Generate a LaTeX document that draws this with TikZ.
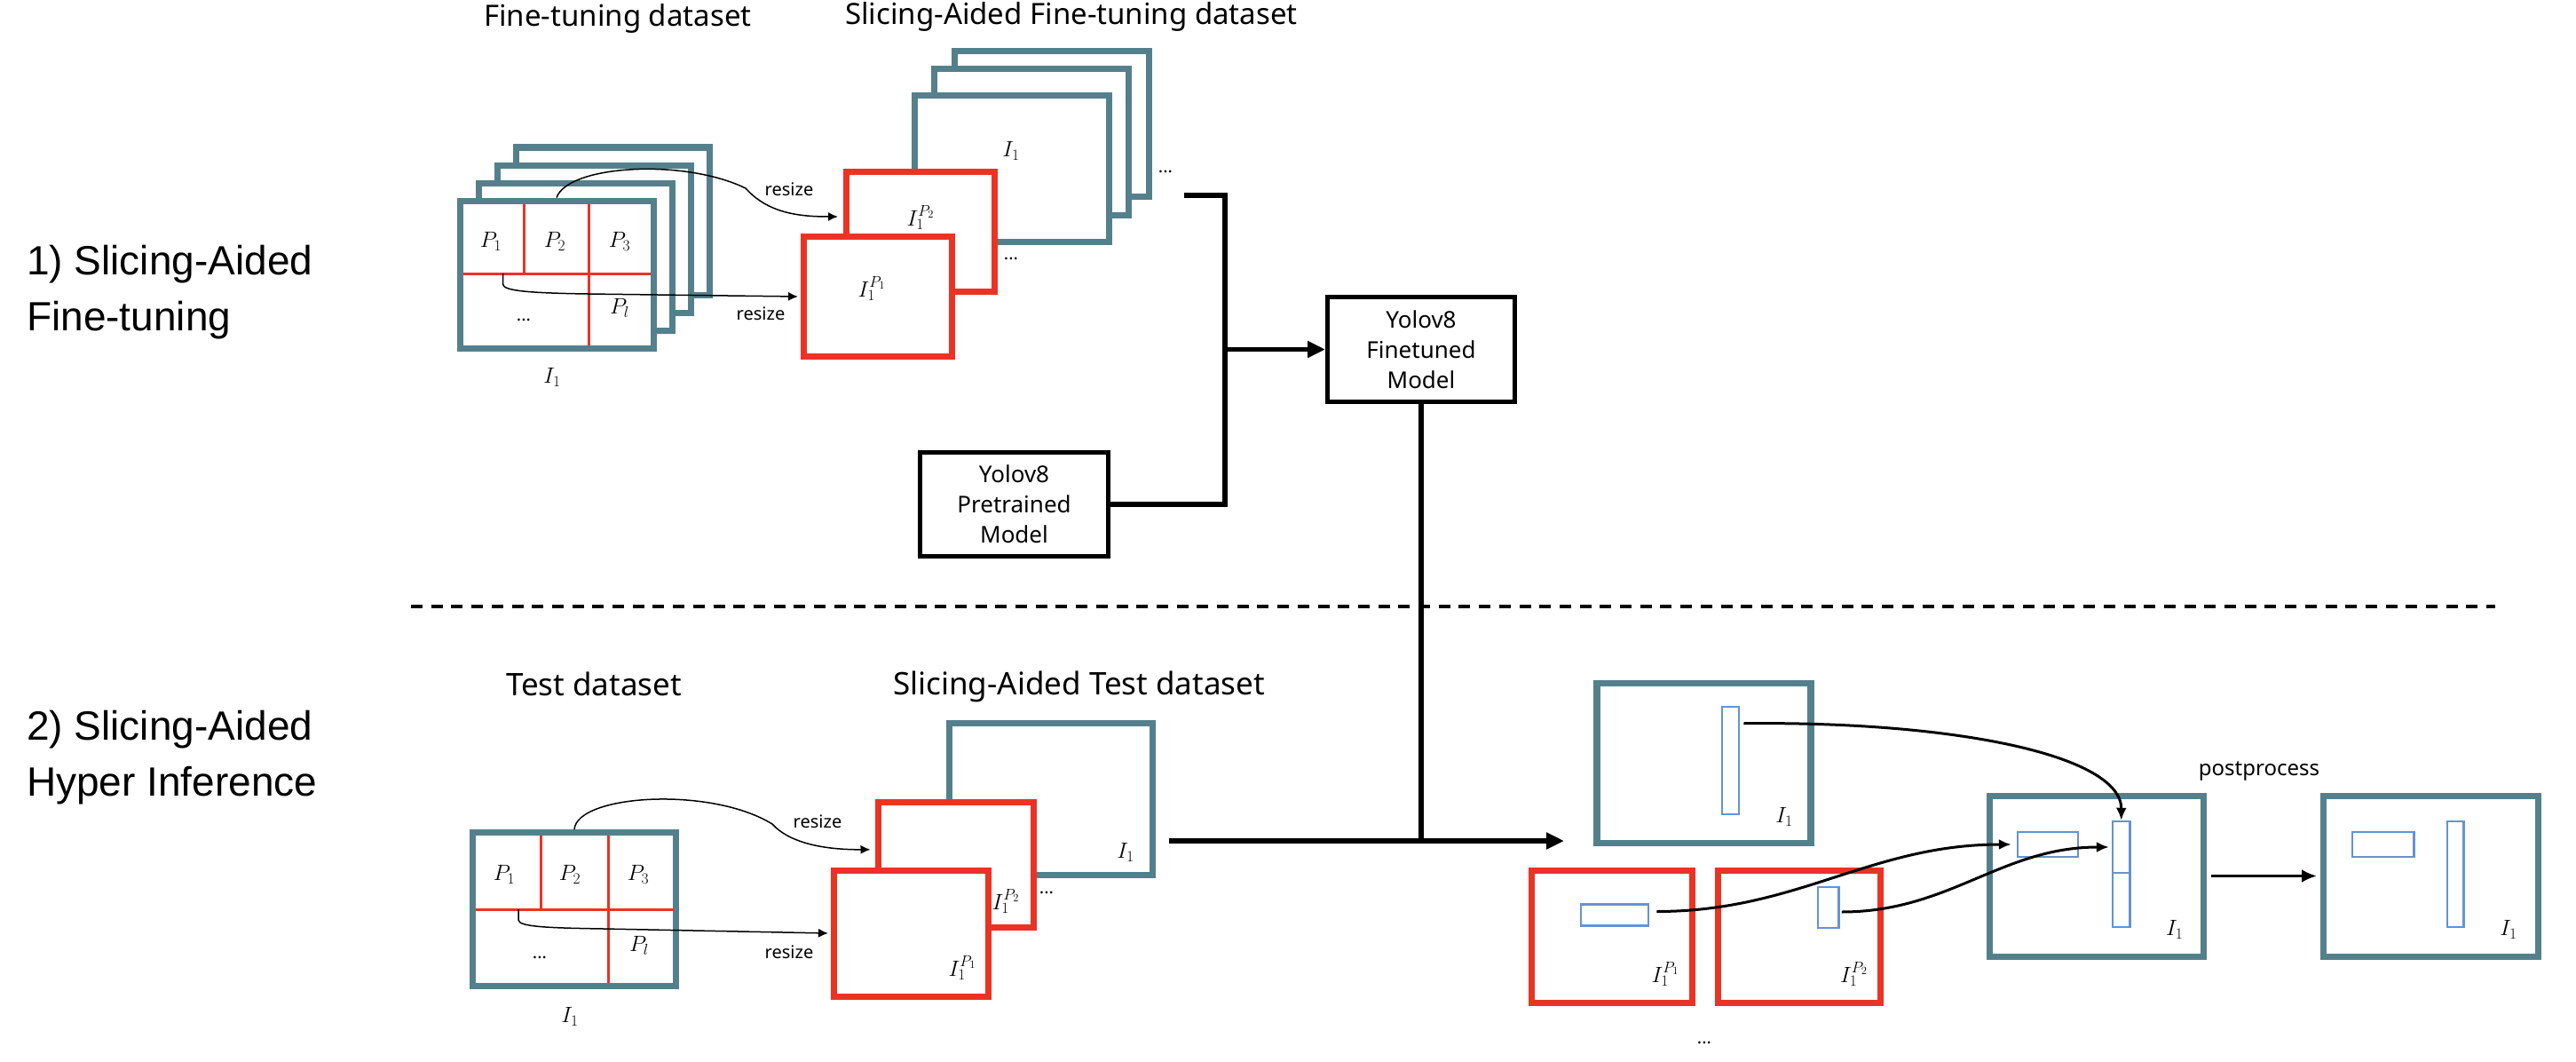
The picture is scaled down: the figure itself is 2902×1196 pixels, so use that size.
\RequirePackage{fix-cm}
\documentclass[tikz,border=0pt]{standalone}
\usepackage{fontspec}
\setmainfont{Noto Sans}
\newfontfamily\arialfont{Liberation Sans}
\usetikzlibrary{arrows.meta,calc}
\definecolor{frameteal}{RGB}{84,128,140}
\definecolor{slicered}{RGB}{233,52,36}
\definecolor{boxblue}{RGB}{100,146,214}
\tikzset{
  fsize/.style 2 args={minimum width=#1,minimum height=#2},
  imgframe/.style={draw=frameteal,line width=7pt,fill=white,inner sep=0pt},
  sliceframe/.style={draw=slicered,line width=7pt,fill=white,inner sep=0pt},
  gridline/.style={slicered,line width=3pt},
  detbox/.style={draw=boxblue,line width=2.5pt,inner sep=0pt},
  modelbox/.style={draw,line width=5pt,align=center,inner sep=0pt,fsize={211pt}{118pt},font=\fontsize{26}{34}\selectfont},
  datatitle/.style={anchor=base west,inner sep=0pt,font=\fontsize{33}{40}\selectfont},
  stagelbl/.style={anchor=base west,align=left,inner sep=0pt,font=\arialfont\fontsize{46}{63}\selectfont},
  mathlbl/.style={inner sep=0pt,font=\fontsize{25}{29}\selectfont},
  smalllbl/.style={inner sep=0pt,font=\fontsize{20}{24}\selectfont},
  resizearrow/.style={line width=1.5pt,-{Latex[length=11pt,width=10pt]}},
  matcharrow/.style={line width=3pt,-{Latex[length=14pt,width=12pt]}},
  flowline/.style={line width=5.5pt},
  flowarrow/.style={line width=5.5pt,-{Triangle[length=20pt,width=18pt]}}
}

\begin{document}
\begin{tikzpicture}[x=1pt,y=-1pt]
  \useasboundingbox (0,0) rectangle (2902,1196);

  \node[stagelbl] (stage1) at (30,372.6) {1) Slicing-Aided\\Fine-tuning};
  \node[stagelbl] (stage2) at (30,896.6) {2) Slicing-Aided\\Hyper Inference};

  \node[datatitle] (fttitle) at (545,30) {Fine-tuning dataset};
  \node[datatitle] (sfttitle) at (952,28) {Slicing-Aided Fine-tuning dataset};
  \node[datatitle,font=\fontsize{35}{42}\selectfont] (testtitle) at (570,783) {Test dataset};
  \node[datatitle,font=\fontsize{35}{42}\selectfont] (stesttitle) at (1006,782) {Slicing-Aided Test dataset};

  \foreach \k in {3,2,1}
    \node[imgframe,fsize={218pt}{166pt}] (ftb\k) at ({627+21*\k},{309-20*\k}) {};
  \node[imgframe,fsize={218pt}{166pt}] (ft) at (627,309) {};
  \draw[gridline] (521.5,308) -- (732.5,308);
  \draw[gridline] (590,229.5) -- (590,308);
  \draw[gridline] (663,229.5) -- (663,388.5);
  \node[mathlbl] (ftp1) at (553,272) {$P_1$};
  \node[mathlbl] (ftp2) at (625,272) {$P_2$};
  \node[mathlbl] (ftp3) at (698,272) {$P_3$};
  \node[mathlbl] (ftpl) at (698,347) {$P_l$};
  \node[smalllbl] (ftdots) at (590,360) {...};
  \node[mathlbl] (ftlbl) at (622,425) {$I_1$};

  \node[imgframe,fsize={219pt}{164pt}] (sft2) at (1185,139.5) {};
  \node[imgframe,fsize={219pt}{164pt}] (sft1) at (1162,160) {};
  \node[imgframe,fsize={219pt}{164pt}] (sft) at (1140,190) {};
  \node[mathlbl] (sftlbl) at (1139,170) {$I_1$};
  \node[smalllbl] (sftdots) at (1313,193) {...};
  \node[sliceframe,fsize={167pt}{135pt}] (srb) at (1037,261) {};
  \node[mathlbl] (srblbl) at (1037,245) {$I_1^{P_2}$};
  \node[sliceframe,fsize={167pt}{135pt}] (srf) at (989,334) {};
  \node[mathlbl] (srflbl) at (982,325) {$I_1^{P_1}$};
  \node[smalllbl] (srdots) at (1139,291) {...};

  \coordinate (ftcut) at (566.5,308);
  \draw[resizearrow] (ft.north) .. controls (640,186) and (770,178) .. (840,212) .. controls (865,240) and (900,244) .. ($(srb.west)+(-6,-17)$);
  \draw[resizearrow] (ftcut) -- (566.5,320) .. controls (566.5,328) and (600,330) .. (662,331) -- ($(srf.west)+(-3,0)$);
  \node[smalllbl] (ftrs1) at (889,213) {resize};
  \node[smalllbl] (ftrs2) at (857,353) {resize};

  \node[modelbox,fsize={212pt}{117.5pt}] (pre) at (1142.5,567.75) {Yolov8\\Pretrained\\Model};
  \node[modelbox] (fine) at (1601,393.5) {Yolov8\\Finetuned\\Model};
  \coordinate (ftout) at (1334,220);
  \coordinate (mergept) at (1380,393.5);
  \draw[flowline] (ftout) -| (mergept) |- (pre.east);
  \draw[flowarrow] (mergept) -- (fine.west);

  \draw[line width=4.3pt,dash pattern=on 13pt off 9.7pt] (463,683) -- (2811,683);

  \node[imgframe,fsize={229.5pt}{173pt}] (tf) at (647,1024) {};
  \draw[gridline] (536,1024) -- (758.5,1024);
  \draw[gridline] (609,941) -- (609,1024);
  \draw[gridline] (685,941) -- (685,1107);
  \node[mathlbl] (tfp1) at (568,985) {$P_1$};
  \node[mathlbl] (tfp2) at (642,985) {$P_2$};
  \node[mathlbl] (tfp3) at (719,985) {$P_3$};
  \node[mathlbl] (tfpl) at (720,1065) {$P_l$};
  \node[smalllbl] (tfdots) at (608,1078) {...};
  \node[mathlbl] (tflbl) at (642,1145) {$I_1$};

  \node[imgframe,fsize={229.5pt}{171pt}] (stt) at (1184,900) {};
  \node[mathlbl] (sttlbl) at (1268,960) {$I_1$};
  \node[sliceframe,fsize={175pt}{140.5pt}] (strb) at (1076.5,973.75) {};
  \node[mathlbl] (strblbl) at (1133,1015) {$I_1^{P_2}$};
  \node[sliceframe,fsize={174pt}{142pt}] (strf) at (1026.5,1051) {};
  \node[mathlbl] (strflbl) at (1084,1090) {$I_1^{P_1}$};
  \node[smalllbl] (stdots) at (1179,1005) {...};

  \coordinate (tfcut) at (584,1024);
  \draw[resizearrow] (tf.north) .. controls (650,895) and (800,885) .. (870,928) .. controls (890,950) and (930,957) .. ($(strb.west)+(-5,-17)$);
  \draw[resizearrow] (tfcut) -- (584,1036) .. controls (584,1044) and (620,1045) .. (680,1046) -- ($(strf.west)+(-3,0)$);
  \node[smalllbl] (tfrs1) at (921,925) {resize};
  \node[smalllbl] (tfrs2) at (889,1072) {resize};

  \coordinate (sttout) at (1317,947);
  \coordinate (detin) at (1762,947);
  \draw[flowarrow] (sttout) -- (detin);
  \draw[flowline] (fine.south) -- (fine.south |- sttout);

  \node[imgframe,line width=7.5pt,fsize={241pt}{180pt}] (pa) at (1919.5,859.5) {};
  \node[detbox,fsize={19pt}{121pt}] (pabox) at (1949.5,856.5) {};
  \node[mathlbl] (palbl) at (2010,920) {$I_1$};
  \node[sliceframe,fsize={181.5pt}{149pt}] (pb1) at (1815.75,1055) {};
  \node[detbox,fsize={76pt}{24pt}] (pb1box) at (1819,1030.5) {};
  \node[mathlbl] (pb1lbl) at (1876,1097) {$I_1^{P_1}$};
  \node[sliceframe,fsize={183pt}{149pt}] (pb2) at (2027,1055) {};
  \node[detbox,fsize={23.5pt}{46pt}] (pb2box) at (2059.75,1022) {};
  \node[mathlbl] (pb2lbl) at (2088.6,1097) {$I_1^{P_2}$};
  \node[smalllbl] (pbdots) at (1920,1174) {...};

  \node[imgframe,fsize={240.5pt}{181pt}] (pc) at (2361.75,986.5) {};
  \node[detbox,fsize={68pt}{28pt}] (pchbox) at (2307,951) {};
  \node[detbox,fsize={19.5pt}{58pt}] (pcvup) at (2389.75,954) {};
  \node[detbox,fsize={19.5pt}{61pt}] (pcvlow) at (2389.75,1013.5) {};
  \node[mathlbl] (pclbl) at (2449.7,1046.7) {$I_1$};
  \node[imgframe,fsize={241.5pt}{181pt}] (pd) at (2738.25,986.5) {};
  \node[detbox,fsize={69.5pt}{28pt}] (pdhbox) at (2684.75,951) {};
  \node[detbox,fsize={18.5pt}{119pt}] (pdvbox) at (2766.25,984.5) {};
  \node[mathlbl] (pdlbl) at (2826,1046.7) {$I_1$};
  \node[smalllbl,font=\fontsize{24}{28}\selectfont] (postlbl) at (2545,868) {postprocess};

  \draw[matcharrow] ($(pabox.north east)+(4,20)$) .. controls (2200,812) and (2390,850) .. (pcvup.north);
  \draw[matcharrow] ($(pb1box.east)+(8,-4)$) to[out=0,in=180] ($(pchbox.west)+(-6,0)$);
  \draw[matcharrow] ($(pb2box.east)+(2,5)$) to[out=0,in=180] ($(pcvup.west)+(-3,0)$);
  \draw[line width=3.5pt,-{Latex[length=17pt,width=15pt]}] ($(pc.east)+(5,0)$) -- ($(pd.west)+(-4,0)$);
\end{tikzpicture}
\end{document}
